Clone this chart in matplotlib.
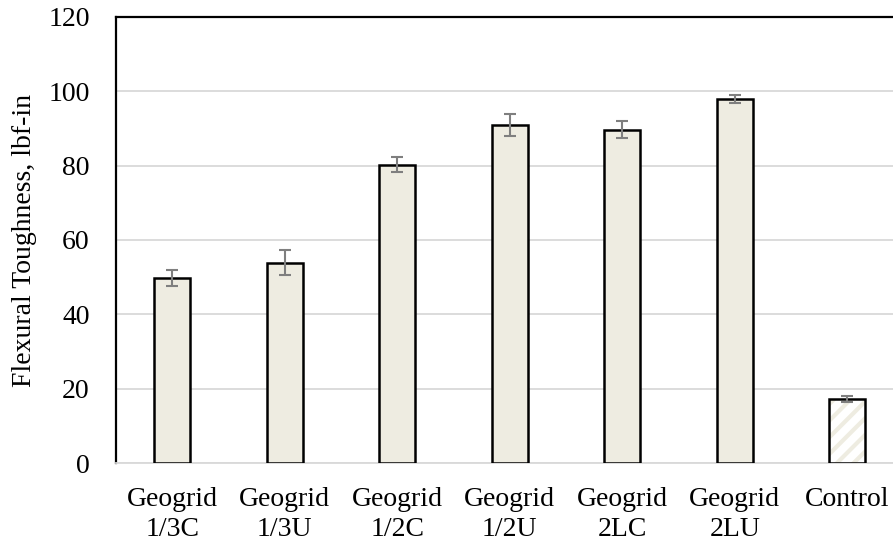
import numpy as np
import matplotlib
matplotlib.use("Agg")
import matplotlib.pyplot as plt

plt.rcParams['font.family'] = ['Liberation Serif', 'DejaVu Serif']
plt.rcParams['hatch.linewidth'] = 3.0

# data
labels = ["Geogrid\n1/3C", "Geogrid\n1/3U", "Geogrid\n1/2C", "Geogrid\n1/2U",
          "Geogrid\n2LC", "Geogrid\n2LU", "Control"]
toughness = [49.8, 53.9, 80.3, 91.0, 89.7, 97.9, 17.2]
errors = [2.2, 3.4, 2.1, 3.0, 2.2, 1.0, 0.9]

fill = "#EEECE1"
x = np.arange(len(labels))

fig = plt.figure(figsize=(8.93, 5.46), dpi=100)
ax = fig.add_axes([0.13, 0.152, 0.87, 0.817])

# geogrid bars solid, control bar hatched
ax.bar(x[:-1], toughness[:-1], width=0.32, color=fill, edgecolor="black",
       linewidth=1.8, zorder=3)
ax.bar(x[-1], toughness[-1], width=0.32, color="white", edgecolor=fill,
       hatch="//", linewidth=0, zorder=3)
ax.bar(x[-1], toughness[-1], width=0.32, color="none", edgecolor="black",
       linewidth=1.8, zorder=4)
ax.errorbar(x, toughness, yerr=errors, fmt="none", ecolor="#7F7F7F",
            elinewidth=1.5, capsize=4.5, capthick=1.5, zorder=5)

ax.set_ylim(0, 120)
ax.set_yticks(range(0, 121, 20))
ax.set_xlim(-0.5, 6.407)
ax.set_xticks(x)
ax.set_xticklabels(labels, fontsize=20, linespacing=1.3)
ax.tick_params(axis="y", labelsize=20, length=0, pad=19)
ax.tick_params(axis="x", length=0, pad=17)
ax.set_ylabel("Flexural Toughness, lbf-in", fontsize=20, labelpad=8)

ax.grid(axis="y", color="#D9D9D9", linewidth=1.3, zorder=0)
ax.spines["right"].set_visible(False)
ax.spines["left"].set_linewidth(1.6)
ax.spines["top"].set_linewidth(1.6)
ax.spines["bottom"].set_color("#D9D9D9")
ax.spines["bottom"].set_linewidth(1.3)

fig.savefig("out.png", dpi=100)
